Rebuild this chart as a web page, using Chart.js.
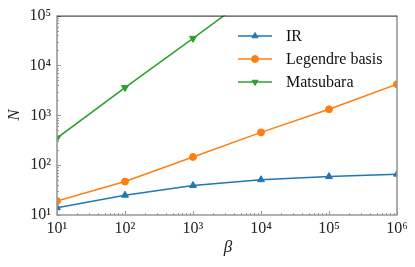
<!DOCTYPE html>
<html>
<head>
<meta charset="utf-8">
<script src="https://cdn.jsdelivr.net/npm/chart.js@4.4.1/dist/chart.umd.min.js"></script>
<style>
  html, body { margin: 0; padding: 0; background: #fff; }
  #wrap { width: 415px; height: 267px; }
</style>
</head>
<body>
<div id="wrap"><canvas id="chart" width="415" height="267"></canvas></div>
<script>
const betas = [10, 100, 1000, 10000, 100000, 1000000];
const irValues = [14, 25, 39, 51, 59, 66];
const legendreValues = [19, 47, 146, 454, 1320, 4200];
const matsubaraBetas = [10, 100, 1000, 10000];
const matsubaraValues = [350, 3600, 35000, 350000];
const seriesNames = ['IR', 'Legendre basis', 'Matsubara'];
const sup = ['\u2070', '\u00b9', '\u00b2', '\u00b3', '\u2074', '\u2075', '\u2076'];

const serif = '"Liberation Serif", "DejaVu Serif", serif';

function toPoints(xs, ys) {
    return xs.map((x, i) => ({ x: x, y: ys[i] }));
}

function logTicks(scale, lo, hi) {
    const t = [];
    for (let e = lo; e < hi; e++) {
        for (let m = 1; m < 10; m++) t.push({ value: m * Math.pow(10, e) });
    }
    t.push({ value: Math.pow(10, hi) });
    scale.ticks = t;
}

function powLabel(v) {
    const e = Math.round(Math.log10(v));
    if (Math.abs(Math.pow(10, e) - v) > 1e-6 * v) return '';
    return '10' + sup[e];
}

// frame, inward ticks and legend in the plot area
const framePlugin = {
    id: 'frame',
    afterDraw(chart) {
        const { ctx, chartArea: a, scales } = chart;
        ctx.save();
        ctx.strokeStyle = '#999999';
        ctx.lineWidth = 1;
        scales.x.ticks.forEach(t => {
            const px = Math.round(scales.x.getPixelForValue(t.value)) + 0.5;
            const len = powLabel(t.value) ? 4 : 2;
            ctx.beginPath();
            ctx.moveTo(px, a.bottom);
            ctx.lineTo(px, a.bottom - len);
            ctx.stroke();
        });
        scales.y.ticks.forEach(t => {
            const py = Math.round(scales.y.getPixelForValue(t.value)) + 0.5;
            const len = powLabel(t.value) ? 4 : 2;
            ctx.beginPath();
            ctx.moveTo(a.left, py);
            ctx.lineTo(a.left + len, py);
            ctx.stroke();
        });
        ctx.lineWidth = 1.6;
        ctx.beginPath();
        ctx.moveTo(a.left, a.top);
        ctx.lineTo(a.left, a.bottom);
        ctx.lineTo(a.right, a.bottom);
        ctx.lineTo(a.right, a.top);
        ctx.stroke();
        ctx.strokeStyle = '#222222';
        ctx.lineWidth = 1;
        ctx.beginPath();
        ctx.moveTo(a.left, a.top + 0.5);
        ctx.lineTo(a.right, a.top + 0.5);
        ctx.stroke();

        // legend
        const rowY = [36, 59, 82];
        chart.data.datasets.forEach((ds, i) => {
            const y = rowY[i];
            ctx.strokeStyle = ds.borderColor;
            ctx.lineWidth = 1.5;
            ctx.beginPath();
            ctx.moveTo(238, y);
            ctx.lineTo(272, y);
            ctx.stroke();
            ctx.fillStyle = ds.backgroundColor;
            ctx.strokeStyle = ds.borderColor;
            ctx.lineWidth = 1;
            Chart.helpers.drawPoint(ctx, {
                pointStyle: ds.pointStyle, radius: 3.5, rotation: ds.pointRotation || 0, borderWidth: 1
            }, 255, y);
            ctx.fillStyle = '#111111';
            ctx.font = '16px ' + serif;
            ctx.textBaseline = 'middle';
            ctx.textAlign = 'left';
            ctx.fillText(ds.label, 286, y + 1);
        });

        // axis titles
        ctx.fillStyle = '#222222';
        ctx.font = 'italic 17px ' + serif;
        ctx.textAlign = 'center';
        ctx.textBaseline = 'middle';
        ctx.fillText('\u03b2', 228, 248);
        ctx.translate(15, 115);
        ctx.rotate(-Math.PI / 2);
        ctx.fillText('N', 0, 0);
        ctx.restore();
    }
};

const ctx = document.getElementById('chart').getContext('2d');
const chart = new Chart(ctx, {
    type: 'line',
    data: {
        datasets: [{
            label: seriesNames[0],
            data: toPoints(betas, irValues),
            borderColor: '#1f77b4',
            backgroundColor: '#1f77b4',
            pointStyle: 'triangle',
            pointRadius: 4,
        }, {
            label: seriesNames[1],
            data: toPoints(betas, legendreValues),
            borderColor: '#ff7f0e',
            backgroundColor: '#ff7f0e',
            pointStyle: 'circle',
            pointRadius: 3.5,
        }, {
            label: seriesNames[2],
            data: toPoints(matsubaraBetas, matsubaraValues),
            borderColor: '#2ca02c',
            backgroundColor: '#2ca02c',
            pointStyle: 'triangle',
            pointRotation: 180,
            pointRadius: 4,
        }]
    },
    options: {
        responsive: false,
        animation: false,
        devicePixelRatio: 1,
        layout: { padding: { top: 15, right: 18, left: 0, bottom: 0 } },
        elements: {
            line: { borderWidth: 1.5, tension: 0 },
            point: { borderWidth: 1 }
        },
        scales: {
            x: {
                type: 'logarithmic',
                min: 10,
                max: 1e6,
                afterBuildTicks: s => logTicks(s, 1, 6),
                afterFit: s => { s.height = 52; },
                grid: { display: false, drawTicks: false },
                border: { display: false },
                ticks: {
                    autoSkip: false,
                    maxRotation: 0,
                    padding: 4,
                    color: '#222222',
                    font: { family: serif, size: 16 },
                    callback: v => powLabel(v)
                }
            },
            y: {
                type: 'logarithmic',
                min: 10,
                max: 1e5,
                afterBuildTicks: s => logTicks(s, 1, 5),
                afterFit: s => { s.width = 57; },
                grid: { display: false, drawTicks: false },
                border: { display: false },
                ticks: {
                    autoSkip: false,
                    padding: 6,
                    color: '#222222',
                    font: { family: serif, size: 16 },
                    callback: v => powLabel(v)
                }
            }
        },
        plugins: {
            legend: { display: false },
            tooltip: { enabled: false }
        }
    },
    plugins: [framePlugin]
});
</script>
</body>
</html>
